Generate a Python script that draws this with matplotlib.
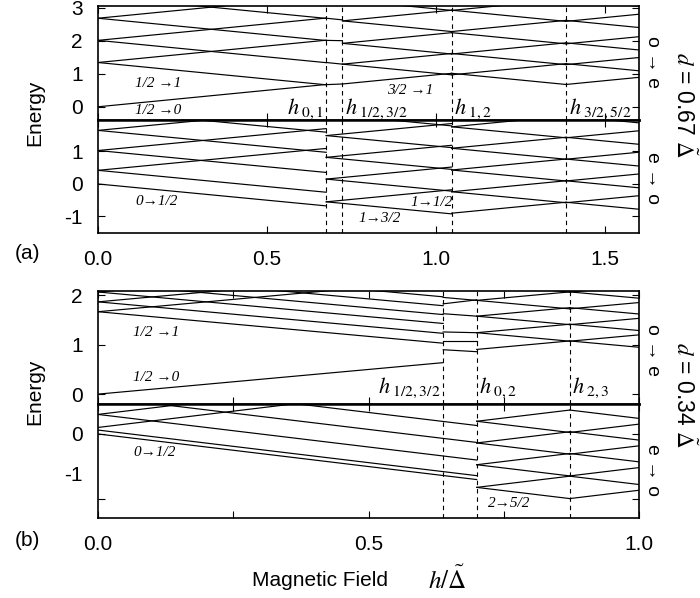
import matplotlib
matplotlib.use("Agg")
import matplotlib.pyplot as plt

plt.rcParams['font.family'] = ['Liberation Sans', 'DejaVu Sans']
plt.rcParams['mathtext.fontset'] = 'stix'
plt.rcParams['axes.unicode_minus'] = False

# line segments (h0, E0, h1, E1)
a_oe = [
    (0, 0, 0.675, 0.675), (0, 1.34, 0.675, 0.665), (0, 1.34, 0.675, 2.015),
    (0, 2.01, 0.675, 1.335), (0, 2.01, 0.675, 2.685), (0, 2.68, 0.675, 2.005),
    (0, 2.68, 0.675, 3.355), (0, 3.35, 0.675, 2.675),
    (0.675, 2.68, 0.723, 2.63), (0.675, 2.01, 0.723, 2.0),
    (0.675, 1.34, 0.723, 1.29), (0.675, 0.67, 0.723, 0.69),
    (0.723, 2.60, 1.046, 2.277), (0.723, 2.60, 1.046, 2.923), (0.723, 3.24, 1.046, 2.917),
    (0.723, 1.92, 1.046, 1.597), (0.723, 1.92, 1.046, 2.243),
    (0.723, 1.29, 1.046, 0.967), (0.723, 1.29, 1.046, 1.613), (0.723, 0.69, 1.046, 1.013),
    (1.046, 2.277, 1.384, 2.615), (1.046, 2.923, 1.384, 2.585), (1.046, 2.917, 1.384, 3.255),
    (1.046, 1.597, 1.384, 1.935), (1.046, 2.243, 1.384, 1.905),
    (1.046, 0.967, 1.384, 1.305), (1.046, 1.613, 1.384, 1.275), (1.046, 1.013, 1.384, 0.675),
    (1.384, 2.615, 1.6, 2.399), (1.384, 2.585, 1.6, 2.801), (1.384, 3.255, 1.6, 3.039),
    (1.384, 1.935, 1.6, 1.719), (1.384, 1.905, 1.6, 2.121),
    (1.384, 1.305, 1.6, 1.089), (1.384, 1.275, 1.6, 1.491), (1.384, 0.675, 1.6, 0.891),
]
a_eo = [
    (0, 0, 0.675, -0.675), (0, 0.42, 0.675, -0.255), (0, 0.42, 0.675, 1.095),
    (0, 1.03, 0.675, 0.355), (0, 1.03, 0.675, 1.705), (0, 1.65, 0.675, 0.975),
    (0, 1.65, 0.675, 2.325), (0, 2.27, 0.675, 1.595),
    (0.675, 2.16, 1.046, 1.789), (0.675, 1.49, 1.046, 1.119), (0.675, 1.49, 1.046, 1.861),
    (0.675, 0.82, 1.046, 0.449), (0.675, 0.82, 1.046, 1.191),
    (0.675, 0.15, 1.046, -0.221), (0.675, 0.15, 1.046, 0.521),
    (0.675, -0.55, 1.046, -0.921), (0.675, -0.55, 1.046, -0.179),
    (1.046, 1.76, 1.384, 1.422), (1.046, 1.76, 1.384, 2.098),
    (1.046, 1.10, 1.384, 0.762), (1.046, 1.10, 1.384, 1.438),
    (1.046, 0.43, 1.384, 0.092), (1.046, 0.43, 1.384, 0.768),
    (1.046, -0.24, 1.384, -0.578), (1.046, -0.24, 1.384, 0.098), (1.046, -0.90, 1.384, -0.562),
    (1.384, 1.422, 1.6, 1.638), (1.384, 2.098, 1.6, 1.882), (1.384, 1.438, 1.6, 1.222),
    (1.384, 0.762, 1.6, 0.978), (1.384, 0.768, 1.6, 0.552), (1.384, 0.092, 1.6, 0.308),
    (1.384, 0.098, 1.6, -0.118), (1.384, -0.578, 1.6, -0.362), (1.384, -0.562, 1.6, -0.778),
]
b_oe = [
    (0, 0, 0.638, 0.638), (0, 1.67, 0.638, 1.032), (0, 1.67, 0.638, 2.308),
    (0, 1.87, 0.638, 1.232), (0, 1.87, 0.638, 2.508), (0, 2.07, 0.638, 1.432),
    (0, 2.07, 0.638, 2.708), (0, 2.25, 0.638, 1.612), (0, 2.43, 0.638, 1.792),
    (0, 2.61, 0.638, 1.972),
    (0.638, 1.96, 0.70, 1.90), (0.638, 1.83, 0.70, 1.91), (0.638, 1.63, 0.70, 1.58),
    (0.638, 1.26, 0.70, 1.245), (0.638, 1.07, 0.70, 1.07), (0.638, 0.90, 0.70, 0.86),
    (0.70, 1.90, 0.872, 2.072), (0.70, 1.90, 0.872, 1.728), (0.70, 2.24, 0.872, 2.068),
    (0.70, 1.58, 0.872, 1.752), (0.70, 1.58, 0.872, 1.408),
    (0.70, 1.245, 0.872, 1.417), (0.70, 1.245, 0.872, 1.073), (0.70, 0.906, 0.872, 1.078),
    (0.872, 2.072, 1.0, 1.944), (0.872, 2.068, 1.0, 2.196), (0.872, 1.728, 1.0, 1.856),
    (0.872, 1.752, 1.0, 1.624), (0.872, 1.408, 1.0, 1.536), (0.872, 1.417, 1.0, 1.289),
    (0.872, 1.073, 1.0, 1.201), (0.872, 1.078, 1.0, 0.950),
]
b_eo = [
    (0, 0, 0.70, -0.70), (0, 0.06, 0.70, -0.64), (0, 0.10, 0.36, 0.46),
    (0, 0.30, 0.16, 0.46), (0, 0.30, 0.70, -0.40), (0, 0.57, 0.70, -0.13),
    (0, 0.83, 0.70, 0.13),
    (0.70, 0.195, 0.872, 0.367), (0.70, 0.195, 0.872, 0.023),
    (0.70, -0.138, 0.872, 0.034), (0.70, -0.138, 0.872, -0.31),
    (0.70, -0.472, 0.872, -0.30), (0.70, -0.472, 0.872, -0.644),
    (0.70, -0.82, 0.872, -0.648), (0.70, -0.82, 0.872, -0.992),
    (0.872, 0.367, 1.0, 0.239), (0.872, 0.023, 1.0, 0.151), (0.872, 0.034, 1.0, -0.094),
    (0.872, -0.31, 1.0, -0.182), (0.872, -0.30, 1.0, -0.428), (0.872, -0.644, 1.0, -0.516),
    (0.872, -0.648, 1.0, -0.776), (0.872, -0.992, 1.0, -0.864),
]

a_crit = [0.675, 0.723, 1.046, 1.384]
b_crit = [0.638, 0.70, 0.872]
a_crit_names = ['0,1', '1/2,3/2', '1,2', '3/2,5/2']
b_crit_names = ['1/2,3/2', '0,2', '2,3']

fig = plt.figure(figsize=(7, 5.98), dpi=100)
W, H = 700, 598


def make_ax(top, bottom):
    return fig.add_axes([98 / W, 1 - bottom / H, 541 / W, (bottom - top) / H])


def style(ax, xlim, ylim, yticks, xticks, labels):
    ax.set_xlim(*xlim)
    ax.set_ylim(*ylim)
    ax.set_yticks(yticks)
    ax.set_xticks(xticks)
    ax.tick_params(which='both', direction='in', top=True, right=True, length=5,
                   width=0.8, labelsize=15)
    ax.tick_params(axis='y', which='both', pad=11)
    ax.tick_params(axis='x', pad=12)
    if not labels:
        ax.tick_params(labelbottom=False)
    for s in ax.spines.values():
        s.set_linewidth(1.2)


def draw(ax, segs):
    for h0, e0, h1, e1 in segs:
        ax.plot([h0, h1], [e0, e1], color='black', lw=0.85)


ax1 = make_ax(6, 120)
ax2 = make_ax(120, 233)
ax3 = make_ax(291, 404)
ax4 = make_ax(404, 518)

style(ax1, (0, 1.6), (-0.4, 3.05), [0, 1, 2, 3], [0, 0.5, 1.0, 1.5], False)
style(ax2, (0, 1.6), (-1.51, 1.97), [-1, 0, 1], [0, 0.5, 1.0, 1.5], True)
style(ax3, (0, 1.0), (-0.2, 2.09), [0, 1, 2], [0, 0.25, 0.5, 0.75, 1.0], False)
style(ax4, (0, 1.0), (-1.29, 0.46), [-1, 0], [0, 0.25, 0.5, 0.75, 1.0], True)
ax2.set_xticklabels(['0.0', '0.5', '1.0', '1.5'])
ax4.set_xticklabels(['0.0', '', '0.5', '', '1.0'])
# lower (b) panel: the "-1" label sits above its tick in the original
ax4.set_yticklabels(['', '0'])
ax4.set_yticks([-0.6], labels=['-1'], minor=True)
ax4.tick_params(axis='y', which='minor', length=0)
for ax, side in [(ax1, 'bottom'), (ax2, 'top'), (ax3, 'bottom'), (ax4, 'top')]:
    ax.spines[side].set_linewidth(1.8)

for ax, segs in [(ax1, a_oe), (ax2, a_eo), (ax3, b_oe), (ax4, b_eo)]:
    draw(ax, segs)

for axs, crit in [((ax1, ax2), a_crit), ((ax3, ax4), b_crit)]:
    for ax in axs:
        for h in crit:
            ax.axvline(h, color='black', lw=0.8, ls=(0, (4, 3.5)))

hl = dict(fontsize=16, family='Liberation Serif', va='center')
for h, n in zip(a_crit, a_crit_names):
    left = n == '0,1'
    ax1.text(h - 0.008 if left else h + 0.008, -0.05, r'$h_{\ \mathit{%s}}$' % n,
             ha='right' if left else 'left', **hl)
for h, n in zip(b_crit, b_crit_names):
    left = n == '1/2,3/2'
    ax3.text(h - 0.005 if left else h + 0.005, 0.13, r'$h_{\ \mathit{%s}}$' % n,
             ha='right' if left else 'left', **hl)

tr = dict(fontsize=11, family='Liberation Serif', style='italic', va='center')
ax1.text(0.11, 0.71, '1/2 →1', **tr)
ax1.text(0.11, -0.12, '1/2 →0', **tr)
ax1.text(0.855, 0.48, '3/2 →1', **tr)
ax2.text(0.11, -0.54, '0→1/2', **tr)
ax2.text(0.77, -1.05, '1→3/2', **tr)
ax2.text(0.925, -0.58, '1→1/2', **tr)
ax3.text(0.065, 1.24, '1/2 →1', **tr)
ax3.text(0.065, 0.33, '1/2 →0', **tr)
ax4.text(0.065, -0.29, '0→1/2', **tr)
ax4.text(0.72, -1.06, '2→5/2', **tr)

for y in (113, 392):
    fig.text(35 / W, 1 - y / H, 'Energy', rotation=90, ha='center', va='center', fontsize=15)
for y, s in [(62, 'o → e'), (178, 'e → o'), (350, 'o → e'), (470, 'e → o')]:
    fig.text(653 / W, 1 - y / H, s, rotation=-90, ha='center', va='center', fontsize=14)
fig.text(684 / W, 1 - 105 / H, r'$d$ = 0.67 $\tilde{\Delta}$', rotation=-90,
         ha='center', va='center', fontsize=16.5)
fig.text(684 / W, 1 - 395 / H, r'$d$ = 0.34 $\tilde{\Delta}$', rotation=-90,
         ha='center', va='center', fontsize=16.5)
fig.text(27 / W, 1 - 253 / H, '(a)', ha='center', va='center', fontsize=15)
fig.text(27 / W, 1 - 541 / H, '(b)', ha='center', va='center', fontsize=15)
fig.text(320 / W, 1 - 580 / H, 'Magnetic Field', ha='center', va='center', fontsize=15)
fig.text(447 / W, 1 - 580 / H, r'$h/\tilde{\Delta}$', ha='center', va='center', fontsize=18)

fig.savefig('out.png', dpi=100)
